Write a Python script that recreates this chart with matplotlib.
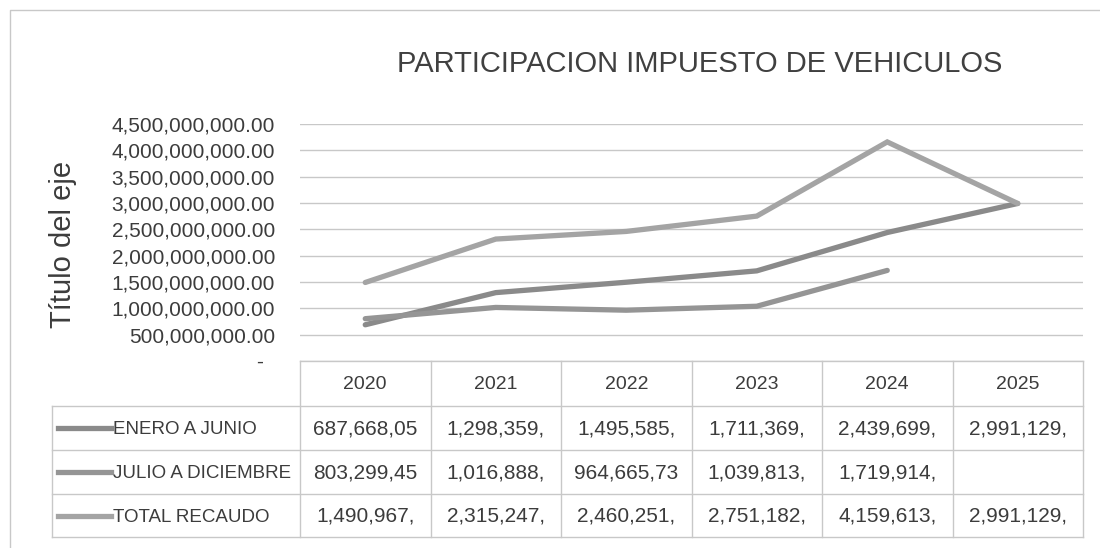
import numpy as np
import matplotlib
matplotlib.use("Agg")
import matplotlib.pyplot as plt
from matplotlib.ticker import FuncFormatter

# --- data -------------------------------------------------------------
years = ["2020", "2021", "2022", "2023", "2024", "2025"]
series_names = ["ENERO A JUNIO", "JULIO A DICIEMBRE", "TOTAL RECAUDO"]
enero_junio = [687668050, 1298359000, 1495585000, 1711369000, 2439699000, 2991129000]
julio_diciembre = [803299450, 1016888000, 964665730, 1039813000, 1719914000, np.nan]
total_recaudo = [1490967000, 2315247000, 2460251000, 2751182000, 4159613000, 2991129000]
y_ticks = np.arange(0, 4.5e9 + 1, 5e8)

series = [enero_junio, julio_diciembre, total_recaudo]
line_colors = ["#8a8a8a", "#959595", "#a4a4a4"]

FONT = ["Liberation Sans", "DejaVu Sans"]
TEXT = "#3c3c3c"
GRID = "#c8c8c8"

W, H = 1100, 548
fig = plt.figure(figsize=(W / 100, H / 100), dpi=100)

# background layer in pixel coordinates (frame + data table)
bg = fig.add_axes([0, 0, 1, 1])
bg.set_xlim(0, W)
bg.set_ylim(H, 0)
bg.axis("off")

bg.plot([10, 10, W + 5], [H + 5, 10, 10], color="#c8c8c8", lw=1)

# plot area in pixels
left, right = 300, 1083
top, bottom = 124, 361
col_w = (right - left) / len(years)

ax = fig.add_axes([left / W, 1 - bottom / H, (right - left) / W, (bottom - top) / H])
ax.patch.set_alpha(0)
x = np.arange(len(years))
for vals, c in zip(series, line_colors):
    ax.plot(x, vals, color=c, lw=3.8, solid_capstyle="round", solid_joinstyle="miter", zorder=3)

ax.set_xlim(-0.5, len(years) - 0.5)
ax.set_ylim(0, 4.5e9)
ax.set_yticks(y_ticks)
ax.yaxis.set_major_formatter(FuncFormatter(lambda v, p: f"{v:,.2f}" if v > 0 else "-  "))
ax.set_xticks([])
ax.tick_params(axis="y", length=0, pad=18, labelsize=15, labelcolor=TEXT)
for lab in ax.get_yticklabels():
    lab.set_family(FONT)
ax.grid(axis="y", color=GRID, lw=1)
for s in ax.spines.values():
    s.set_visible(False)

ax.set_ylabel("Título del eje", fontsize=21, color=TEXT, family=FONT)
ax.yaxis.set_label_coords(-0.285, 0.49)

fig.text(700 / W, 1 - 64 / H, "PARTICIPACION IMPUESTO DE VEHICULOS", ha="center", va="center",
         fontsize=21, color="#404040", family=FONT)

# data table
row_lines = [406, 450, 494, 537]
label_left = 52
bg.plot([left, right], [bottom, bottom], color=GRID, lw=1)
for yl in row_lines:
    bg.plot([label_left, right], [yl, yl], color=GRID, lw=1)
bg.plot([label_left, label_left], [row_lines[0], row_lines[-1]], color=GRID, lw=1)
for k in range(len(years) + 1):
    xl = left + k * col_w
    bg.plot([xl, xl], [bottom, row_lines[-1]], color=GRID, lw=1)

for k, yr in enumerate(years):
    bg.text(left + (k + 0.5) * col_w, (bottom + row_lines[0]) / 2 + 1, yr, ha="center", va="center",
            fontsize=14, color=TEXT, family=FONT)

for r, (name, vals, c) in enumerate(zip(series_names, series, line_colors)):
    yc = (row_lines[r] + row_lines[r + 1]) / 2
    bg.plot([58, 111], [yc, yc], color=c, lw=3.8)
    bg.text(113, yc + 1.5, name, ha="left", va="center", fontsize=13.5, color=TEXT, family=FONT)
    for k, v in enumerate(vals):
        if np.isnan(v):
            continue
        txt = f"{v:,.2f}"[:10]
        bg.text(left + (k + 0.5) * col_w, yc + 1, txt, ha="center", va="center",
                fontsize=15, color=TEXT, family=FONT)

fig.savefig("out.png", dpi=100)
